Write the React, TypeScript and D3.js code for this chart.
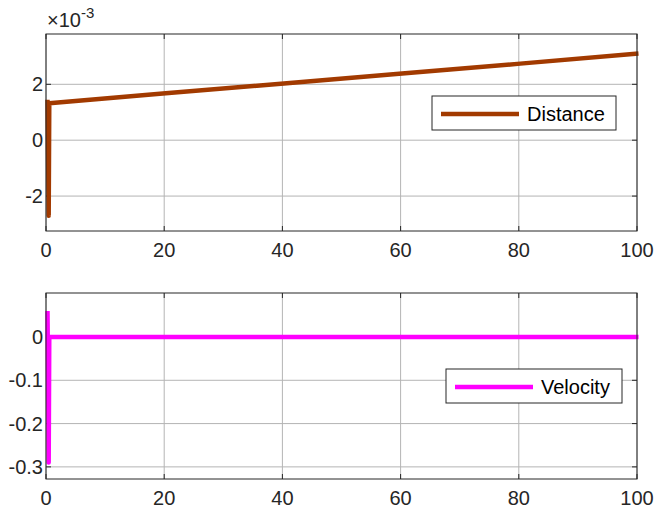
import React from 'react';
import * as d3 from 'd3';

// time samples and series (distance in units of 1e-3)
const distTime = [0, 0.1, 0.2, 0.3, 20, 40, 60, 80, 100];
const distVals = [1.45, -0.5, -2.7, 1.32, 1.68, 2.03, 2.39, 2.74, 3.1];
const velTime = [0, 0.1, 0.2, 0.3, 100];
const velVals = [0.06, -0.1, -0.29, 0, 0];

const xTicks = [0, 20, 40, 60, 80, 100];
const distTicks = [-2, 0, 2];
const velTicks = [-0.3, -0.2, -0.1, 0];

const W = 657;
const H = 513;
const left = 46;
const right = 637;

type PanelProps = {
  top: number;
  bottom: number;
  yDomain: [number, number];
  yTicks: number[];
  t: number[];
  v: number[];
  color: string;
  label: string;
  legend: { x: number; y: number; w: number };
};

function Panel({ top, bottom, yDomain, yTicks, t, v, color, label, legend }: PanelProps) {
  const x = d3.scaleLinear().domain([0, 100]).range([left, right]);
  const y = d3.scaleLinear().domain(yDomain).range([bottom, top]);
  const line = d3
    .line<number>()
    .x((_, i) => x(t[i]) + 1.5)
    .y((d) => y(d));
  const tk = 5;
  return (
    <g>
      <rect x={left} y={top} width={right - left} height={bottom - top} fill="#fff" />
      {/* grid */}
      {xTicks.map((d) => (
        <line key={'gx' + d} x1={x(d)} x2={x(d)} y1={top} y2={bottom} stroke="#b4b4b4" strokeWidth={1} />
      ))}
      {yTicks.map((d) => (
        <line key={'gy' + d} x1={left} x2={right} y1={y(d)} y2={y(d)} stroke="#b4b4b4" strokeWidth={1} />
      ))}
      {/* ticks */}
      {xTicks.map((d) => (
        <g key={'tx' + d} stroke="#262626">
          <line x1={x(d)} x2={x(d)} y1={bottom} y2={bottom - tk} />
          <line x1={x(d)} x2={x(d)} y1={top} y2={top + tk} />
        </g>
      ))}
      {yTicks.map((d) => (
        <g key={'ty' + d} stroke="#262626">
          <line x1={left} x2={left + tk} y1={y(d)} y2={y(d)} />
          <line x1={right} x2={right - tk} y1={y(d)} y2={y(d)} />
        </g>
      ))}
      <path d={line(v) || ''} fill="none" stroke={color} strokeWidth={4.5} strokeLinejoin="round" />
      <rect x={left} y={top} width={right - left} height={bottom - top} fill="none" stroke="#262626" strokeWidth={1} />
      {/* tick labels */}
      {xTicks.map((d) => (
        <text key={'lx' + d} x={x(d)} y={bottom + 26} textAnchor="middle" fontSize={20} fill="#262626">
          {d}
        </text>
      ))}
      {yTicks.map((d) => (
        <text key={'ly' + d} x={left - 3} y={y(d) + 7} textAnchor="end" fontSize={20} fill="#262626">
          {d}
        </text>
      ))}
      {/* legend */}
      <rect x={legend.x} y={legend.y} width={legend.w} height={34} fill="#fff" stroke="#262626" strokeWidth={1} />
      <line x1={legend.x + 9} x2={legend.x + 87} y1={legend.y + 18} y2={legend.y + 18} stroke={color} strokeWidth={4.5} />
      <text x={legend.x + 95} y={legend.y + 25} fontSize={20} fill="#000">
        {label}
      </text>
    </g>
  );
}

export default function App() {
  return (
    <svg width={W} height={H} style={{ position: 'absolute', left: 0, top: 0 }} fontFamily="'Liberation Sans', Arial, sans-serif">
      <rect width={W} height={H} fill="#fff" />
      <Panel
        top={34}
        bottom={231}
        yDomain={[-3.25, 3.8]}
        yTicks={distTicks}
        t={distTime}
        v={distVals}
        color="#a23a00"
        label="Distance"
        legend={{ x: 432, y: 96, w: 184 }}
      />
      <text x={47} y={27} fontSize={20} fill="#262626">
        ×10
        <tspan fontSize={15} dy={-9}>-3</tspan>
      </text>
      <Panel
        top={293}
        bottom={479}
        yDomain={[-0.328, 0.1016]}
        yTicks={velTicks}
        t={velTime}
        v={velVals}
        color="#ff00ff"
        label="Velocity"
        legend={{ x: 446, y: 369, w: 176 }}
      />
    </svg>
  );
}
